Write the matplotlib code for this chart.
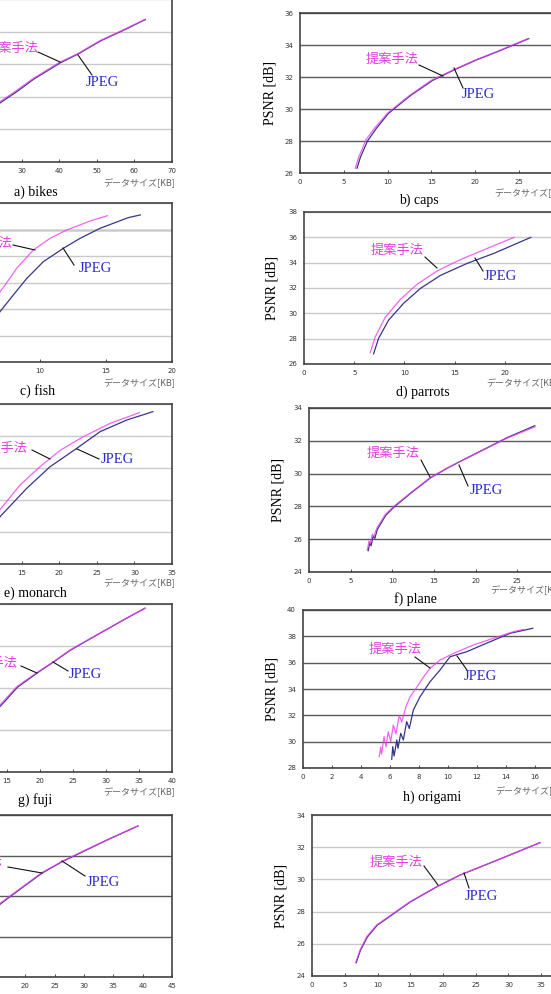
import matplotlib
matplotlib.use('Agg')
import numpy as np
import matplotlib.pyplot as plt
from matplotlib.lines import Line2D

W, H = 551, 994
SERIF = ['Liberation Serif', 'DejaVu Serif']
JP = ['Noto Sans CJK JP', 'DejaVu Sans']
MAGENTA = '#f03cf0'
NAVY = '#35358c'
LABEL_PROP = '提案手法'
LABEL_JPEG = 'JPEG'
XLABEL = 'データサイズ[KB]'
YLABEL = 'PSNR [dB]'

# ---- data (KB, dB) ----
BIKES_PROP_X = [8, 12, 18, 24.2, 28.7, 33.1, 40.2, 45.1, 50.8, 57.9, 62.8]
BIKES_PROP_Y = [24.3, 25.3, 26.6, 27.7, 28.4, 29.13, 30.13, 30.67, 31.44, 32.2, 32.75]
BIKES_JPEG_X = [8.3, 12.3, 18.2, 24.4, 28.9, 33.3, 40.4, 45.2, 50.9, 58.0, 62.9]
BIKES_JPEG_Y = [24.2, 25.2, 26.5, 27.65, 28.35, 29.1, 30.1, 30.65, 31.42, 32.18, 32.74]

CAPS_PROP_X = [6.3, 6.7, 7.1, 7.5, 8.5, 10, 12.5, 15, 17.5, 20, 22.5, 26.0]
CAPS_PROP_Y = [26.3, 27.0, 27.5, 28.06, 28.8, 29.75, 30.85, 31.8, 32.45, 33.06, 33.6, 34.4]
CAPS_JPEG_X = [6.5, 6.9, 7.3, 7.7, 8.7, 10.1, 12.6, 15.1, 17.6, 20.1, 22.6, 26.1]
CAPS_JPEG_Y = [26.3, 27.0, 27.5, 28.0, 28.78, 29.73, 30.84, 31.78, 32.45, 33.06, 33.6, 34.4]

FISH_PROP_X = [5.5, 6.0, 6.97, 7.35, 8.23, 9.49, 10.76, 12.02, 13.8, 15.1]
FISH_PROP_Y = [26.3, 27.5, 29.3, 29.8, 31.07, 32.45, 33.33, 33.96, 34.64, 35.04]
FISH_JPEG_X = [6.3, 6.97, 7.98, 8.99, 10.25, 11.77, 13.03, 14.55, 16.7, 17.6]
FISH_JPEG_Y = [26.5, 27.8, 29.06, 30.3, 31.57, 32.58, 33.33, 34.09, 34.9, 35.1]

PARROTS_PROP_X = [6.6, 7.1, 8.1, 9.6, 11.27, 13.27, 15.6, 18.27, 20.93]
PARROTS_PROP_Y = [26.9, 28.15, 29.7, 31.1, 32.3, 33.35, 34.25, 35.13, 36.0]
PARROTS_JPEG_X = [6.93, 7.43, 8.43, 9.93, 11.6, 13.6, 16.27, 18.93, 22.6]
PARROTS_JPEG_Y = [26.8, 28.03, 29.47, 30.8, 31.97, 33.0, 33.95, 34.74, 36.0]

MONARCH_PROP_X = [8.5, 10, 12.12, 14.78, 17.44, 20.1, 23.21, 26.76, 30.67]
MONARCH_PROP_Y = [25.3, 26.3, 27.4, 28.94, 30.08, 31.1, 31.96, 32.79, 33.46]
MONARCH_JPEG_X = [9.2, 10.5, 12.12, 15.67, 18.77, 22.33, 25.43, 28.99, 32.45]
MONARCH_JPEG_Y = [24.8, 25.8, 26.96, 28.73, 30.08, 31.23, 32.27, 33.0, 33.52]

PLANE_PROP_X = [7.0, 7.2, 7.35, 7.6, 7.8, 8.12, 9.12, 10.12, 12.12, 14.52, 16.52, 18.12, 21.32, 23.72, 27.12]
PLANE_PROP_Y = [25.34, 25.9, 25.7, 26.3, 26.15, 26.66, 27.48, 27.98, 28.8, 29.75, 30.32, 30.73, 31.54, 32.15, 32.85]
PLANE_JPEG_X = [7.1, 7.3, 7.45, 7.7, 7.9, 8.2, 9.2, 10.2, 12.2, 14.6, 16.6, 18.2, 21.4, 23.8, 27.1]
PLANE_JPEG_Y = [25.3, 25.8, 25.6, 26.2, 26.05, 26.6, 27.45, 27.96, 28.8, 29.75, 30.33, 30.76, 31.58, 32.2, 32.92]

FUJI_PROP_X = [8.5, 11, 13.94, 16.47, 19.5, 22.02, 24.55, 28.08, 32.62, 35.9]
FUJI_PROP_Y = [25.0, 26.2, 27.19, 28.06, 28.73, 29.25, 29.81, 30.44, 31.24, 31.8]
FUJI_JPEG_X = [8.7, 11.2, 14.1, 16.6, 19.6, 22.1, 24.6, 28.1, 32.6, 35.9]
FUJI_JPEG_Y = [25.0, 26.2, 27.17, 28.04, 28.72, 29.25, 29.8, 30.43, 31.23, 31.8]

ORIGAMI_PROP_X = [5.26, 5.36, 5.42, 5.59, 5.72, 5.88, 6.05, 6.23, 6.41, 6.64, 6.81, 7.1,
                  7.38, 7.84, 8.3, 8.76, 9.45, 10.37, 11.75, 13.12, 14.5, 15.19]
ORIGAMI_PROP_Y = [28.86, 29.6, 29.06, 30.38, 29.6, 30.76, 30.0, 31.27, 30.6, 32.0, 31.5, 32.65,
                  33.4, 34.13, 34.9, 35.57, 36.2, 36.7, 37.34, 37.85, 38.35, 38.53]
ORIGAMI_JPEG_X = [6.12, 6.19, 6.28, 6.47, 6.55, 6.74, 6.92, 7.15, 7.33, 7.61, 8.07, 8.76,
                  9.45, 10.14, 11.29, 12.9, 14.28, 15.84]
ORIGAMI_JPEG_Y = [28.66, 29.62, 28.91, 30.13, 29.5, 30.63, 30.13, 31.52, 31.0, 32.4, 33.41, 34.55,
                  35.44, 36.45, 36.83, 37.59, 38.23, 38.61]

PANEL_I_PROP_X = [9, 12, 15.7, 19.4, 22.8, 26.2, 28.8, 33.9, 39.2]
PANEL_I_PROP_Y = [25.4, 26.6, 27.64, 28.43, 29.15, 29.7, 30.07, 30.77, 31.46]
PANEL_I_JPEG_X = [9.2, 12.2, 15.8, 19.5, 22.9, 26.3, 28.9, 33.9, 39.2]
PANEL_I_JPEG_Y = [25.4, 26.6, 27.62, 28.42, 29.14, 29.7, 30.06, 30.76, 31.46]

PANEL_J_PROP_X = [6.67, 7.33, 8.35, 9.87, 12.41, 14.96, 19.03, 22.6, 27.68, 34.81]
PANEL_J_PROP_Y = [24.83, 25.61, 26.44, 27.17, 27.89, 28.61, 29.55, 30.27, 31.1, 32.28]
PANEL_J_JPEG_X = [6.75, 7.4, 8.45, 9.95, 12.5, 15.0, 19.1, 22.6, 27.7, 34.8]
PANEL_J_JPEG_Y = [24.83, 25.6, 26.42, 27.15, 27.88, 28.6, 29.55, 30.27, 31.1, 32.28]

LIGHT = '#c9c9c9'
DARK = '#5a5a5a'

# layout in image pixels: box=(left, top, right, bottom)
PANELS = [
    dict(box=(-91, -1, 172, 162), xlim=(0, 70), xstep=10, ylim=(24, 34), ystep=2, grid=LIGHT,
         data=(BIKES_PROP_X, BIKES_PROP_Y, BIKES_JPEG_X, BIKES_JPEG_Y),
         cap='a) bikes', cap_xy=(36, 192), xl_y=183, yl_x=None,
         prop=(12, 48, 38, 52, 60, 62), jpeg=(102, 83, 78, 55, 92, 75)),
    dict(box=(300, 13, 563, 173), xlim=(0, 30), xstep=5, ylim=(26, 36), ystep=2, grid=DARK,
         data=(CAPS_PROP_X, CAPS_PROP_Y, CAPS_JPEG_X, CAPS_JPEG_Y),
         cap='b) caps', cap_xy=(419, 200), xl_y=193, yl_x=270,
         prop=(392, 59, 419, 65, 443, 76), jpeg=(478, 94, 454, 68, 463, 88)),
    dict(box=(-92, 203, 172, 362), xlim=(0, 20), xstep=5, ylim=(24, 36), ystep=2, grid=LIGHT,
         dark_y=34,
         data=(FISH_PROP_X, FISH_PROP_Y, FISH_JPEG_X, FISH_JPEG_Y),
         cap='c) fish', cap_xy=(38, 391), xl_y=383, yl_x=None,
         prop=(-14, 243, 13, 245, 35, 250), jpeg=(95, 269, 63, 248, 74, 265)),
    dict(box=(304, 212, 555, 364), xlim=(0, 25), xstep=5, ylim=(26, 38), ystep=2, grid=LIGHT,
         data=(PARROTS_PROP_X, PARROTS_PROP_Y, PARROTS_JPEG_X, PARROTS_JPEG_Y),
         cap='d) parrots', cap_xy=(423, 392), xl_y=383, yl_x=272,
         prop=(397, 250, 425, 257, 437, 268), jpeg=(500, 276, 475, 258, 483, 271)),
    dict(box=(-91, 404, 172, 564), xlim=(0, 35), xstep=5, ylim=(24, 34), ystep=2, grid=LIGHT,
         data=(MONARCH_PROP_X, MONARCH_PROP_Y, MONARCH_JPEG_X, MONARCH_JPEG_Y),
         cap='e) monarch', cap_xy=(35, 593), xl_y=583, yl_x=None,
         prop=(1, 448, 32, 450, 50, 459), jpeg=(117, 460, 77, 449, 99, 459)),
    dict(box=(309, 408, 559, 572), xlim=(0, 30), xstep=5, ylim=(24, 34), ystep=2, grid=DARK,
         data=(PLANE_PROP_X, PLANE_PROP_Y, PLANE_JPEG_X, PLANE_JPEG_Y),
         cap='f) plane', cap_xy=(415, 599), xl_y=590, yl_x=278,
         prop=(393, 453, 421, 460, 430, 477), jpeg=(486, 490, 459, 465, 468, 486)),
    dict(box=(-92, 604, 172, 772), xlim=(0, 40), xstep=5, ylim=(24, 32), ystep=2, grid=LIGHT,
         data=(FUJI_PROP_X, FUJI_PROP_Y, FUJI_JPEG_X, FUJI_JPEG_Y),
         cap='g) fuji', cap_xy=(35, 800), xl_y=792, yl_x=None,
         prop=(-9, 663, 21, 666, 37, 673), jpeg=(85, 674, 53, 662, 68, 671)),
    dict(box=(303, 610, 564, 768), xlim=(0, 18), xstep=2, ylim=(28, 40), ystep=2, grid=DARK,
         data=(ORIGAMI_PROP_X, ORIGAMI_PROP_Y, ORIGAMI_JPEG_X, ORIGAMI_JPEG_Y),
         cap='h) origami', cap_xy=(432, 797), xl_y=791, yl_x=272,
         prop=(395, 649, 415, 657, 430, 668), jpeg=(480, 677, 457, 656, 467, 670)),
    dict(box=(-92, 815, 172, 977), xlim=(0, 45), xstep=5, ylim=(24, 32), ystep=2, grid=DARK,
         data=(PANEL_I_PROP_X, PANEL_I_PROP_Y, PANEL_I_JPEG_X, PANEL_I_JPEG_Y),
         cap=None, cap_xy=None, xl_y=1000, yl_x=None,
         prop=(-24, 861, 8, 867, 42, 873), jpeg=(103, 883, 62, 861, 85, 876)),
    dict(box=(312, 815, 574, 976), xlim=(0, 40), xstep=5, ylim=(24, 34), ystep=2, grid=LIGHT,
         data=(PANEL_J_PROP_X, PANEL_J_PROP_Y, PANEL_J_JPEG_X, PANEL_J_JPEG_Y),
         cap=None, cap_xy=None, xl_y=1000, yl_x=281,
         prop=(396, 862, 424, 866, 438, 885), jpeg=(481, 896, 464, 873, 469, 888)),
]


def fx(x):
    return x / W


def fy(y):
    return 1 - y / H


def draw_panel(fig, p):
    l, t, r, b = p['box']
    ax = fig.add_axes([fx(l), fy(b), (r - l) / W, (b - t) / H])
    x0, x1 = p['xlim']
    y0, y1 = p['ylim']
    ax.set_xlim(x0, x1)
    ax.set_ylim(y0, y1)
    ax.set_xticks(np.arange(x0, x1 + 0.01, p['xstep']))
    ax.set_yticks(np.arange(y0, y1 + 0.01, p['ystep']))
    ax.tick_params(labelsize=5, colors='#333', direction='in', length=2.5, width=0.6, pad=4)
    ax.tick_params(axis='y', length=0, pad=5)
    ax.grid(axis='y', color=p['grid'], lw=1.0)
    if 'dark_y' in p:
        ax.axhline(p['dark_y'], color=DARK, lw=1.0, zorder=1)
    for s in ax.spines.values():
        s.set_color('#444')
        s.set_linewidth(1.2)
    px, py, jx, jy = p['data']
    ax.plot(jx, jy, color=NAVY, lw=0.9, zorder=3)
    ax.plot(px, py, color=MAGENTA, lw=0.9, alpha=0.8, zorder=4)

    # labels with leader lines
    tx, ty, ax0, ay0, ax1, ay1 = p['prop']
    fig.text(fx(tx), fy(ty), LABEL_PROP, color='#e040e0', fontsize=9.5, family=JP,
             ha='center', va='center')
    fig.add_artist(Line2D([fx(ax0), fx(ax1)], [fy(ay0), fy(ay1)], color='#111', lw=0.8))
    tx, ty, ax0, ay0, ax1, ay1 = p['jpeg']
    fig.text(fx(tx), fy(ty), LABEL_JPEG, color='#2a2ad0', fontsize=10.5, family=SERIF,
             ha='center', va='center')
    fig.add_artist(Line2D([fx(ax0), fx(ax1)], [fy(ay0), fy(ay1)], color='#111', lw=0.8))

    fig.text(fx(r + 3), fy(p['xl_y']), XLABEL, color='#666', fontsize=6.5, family=JP,
             ha='right', va='center')
    if p['cap']:
        fig.text(fx(p['cap_xy'][0]), fy(p['cap_xy'][1]), p['cap'], fontsize=10,
                 family=SERIF, ha='center', va='center')
    if p['yl_x'] is not None:
        fig.text(fx(p['yl_x']), fy((t + b) / 2), YLABEL, fontsize=10, family=SERIF,
                 rotation=90, ha='center', va='center')


fig = plt.figure(figsize=(W / 100, H / 100), dpi=100)
for p in PANELS:
    draw_panel(fig, p)
fig.savefig('out.png', dpi=100)
